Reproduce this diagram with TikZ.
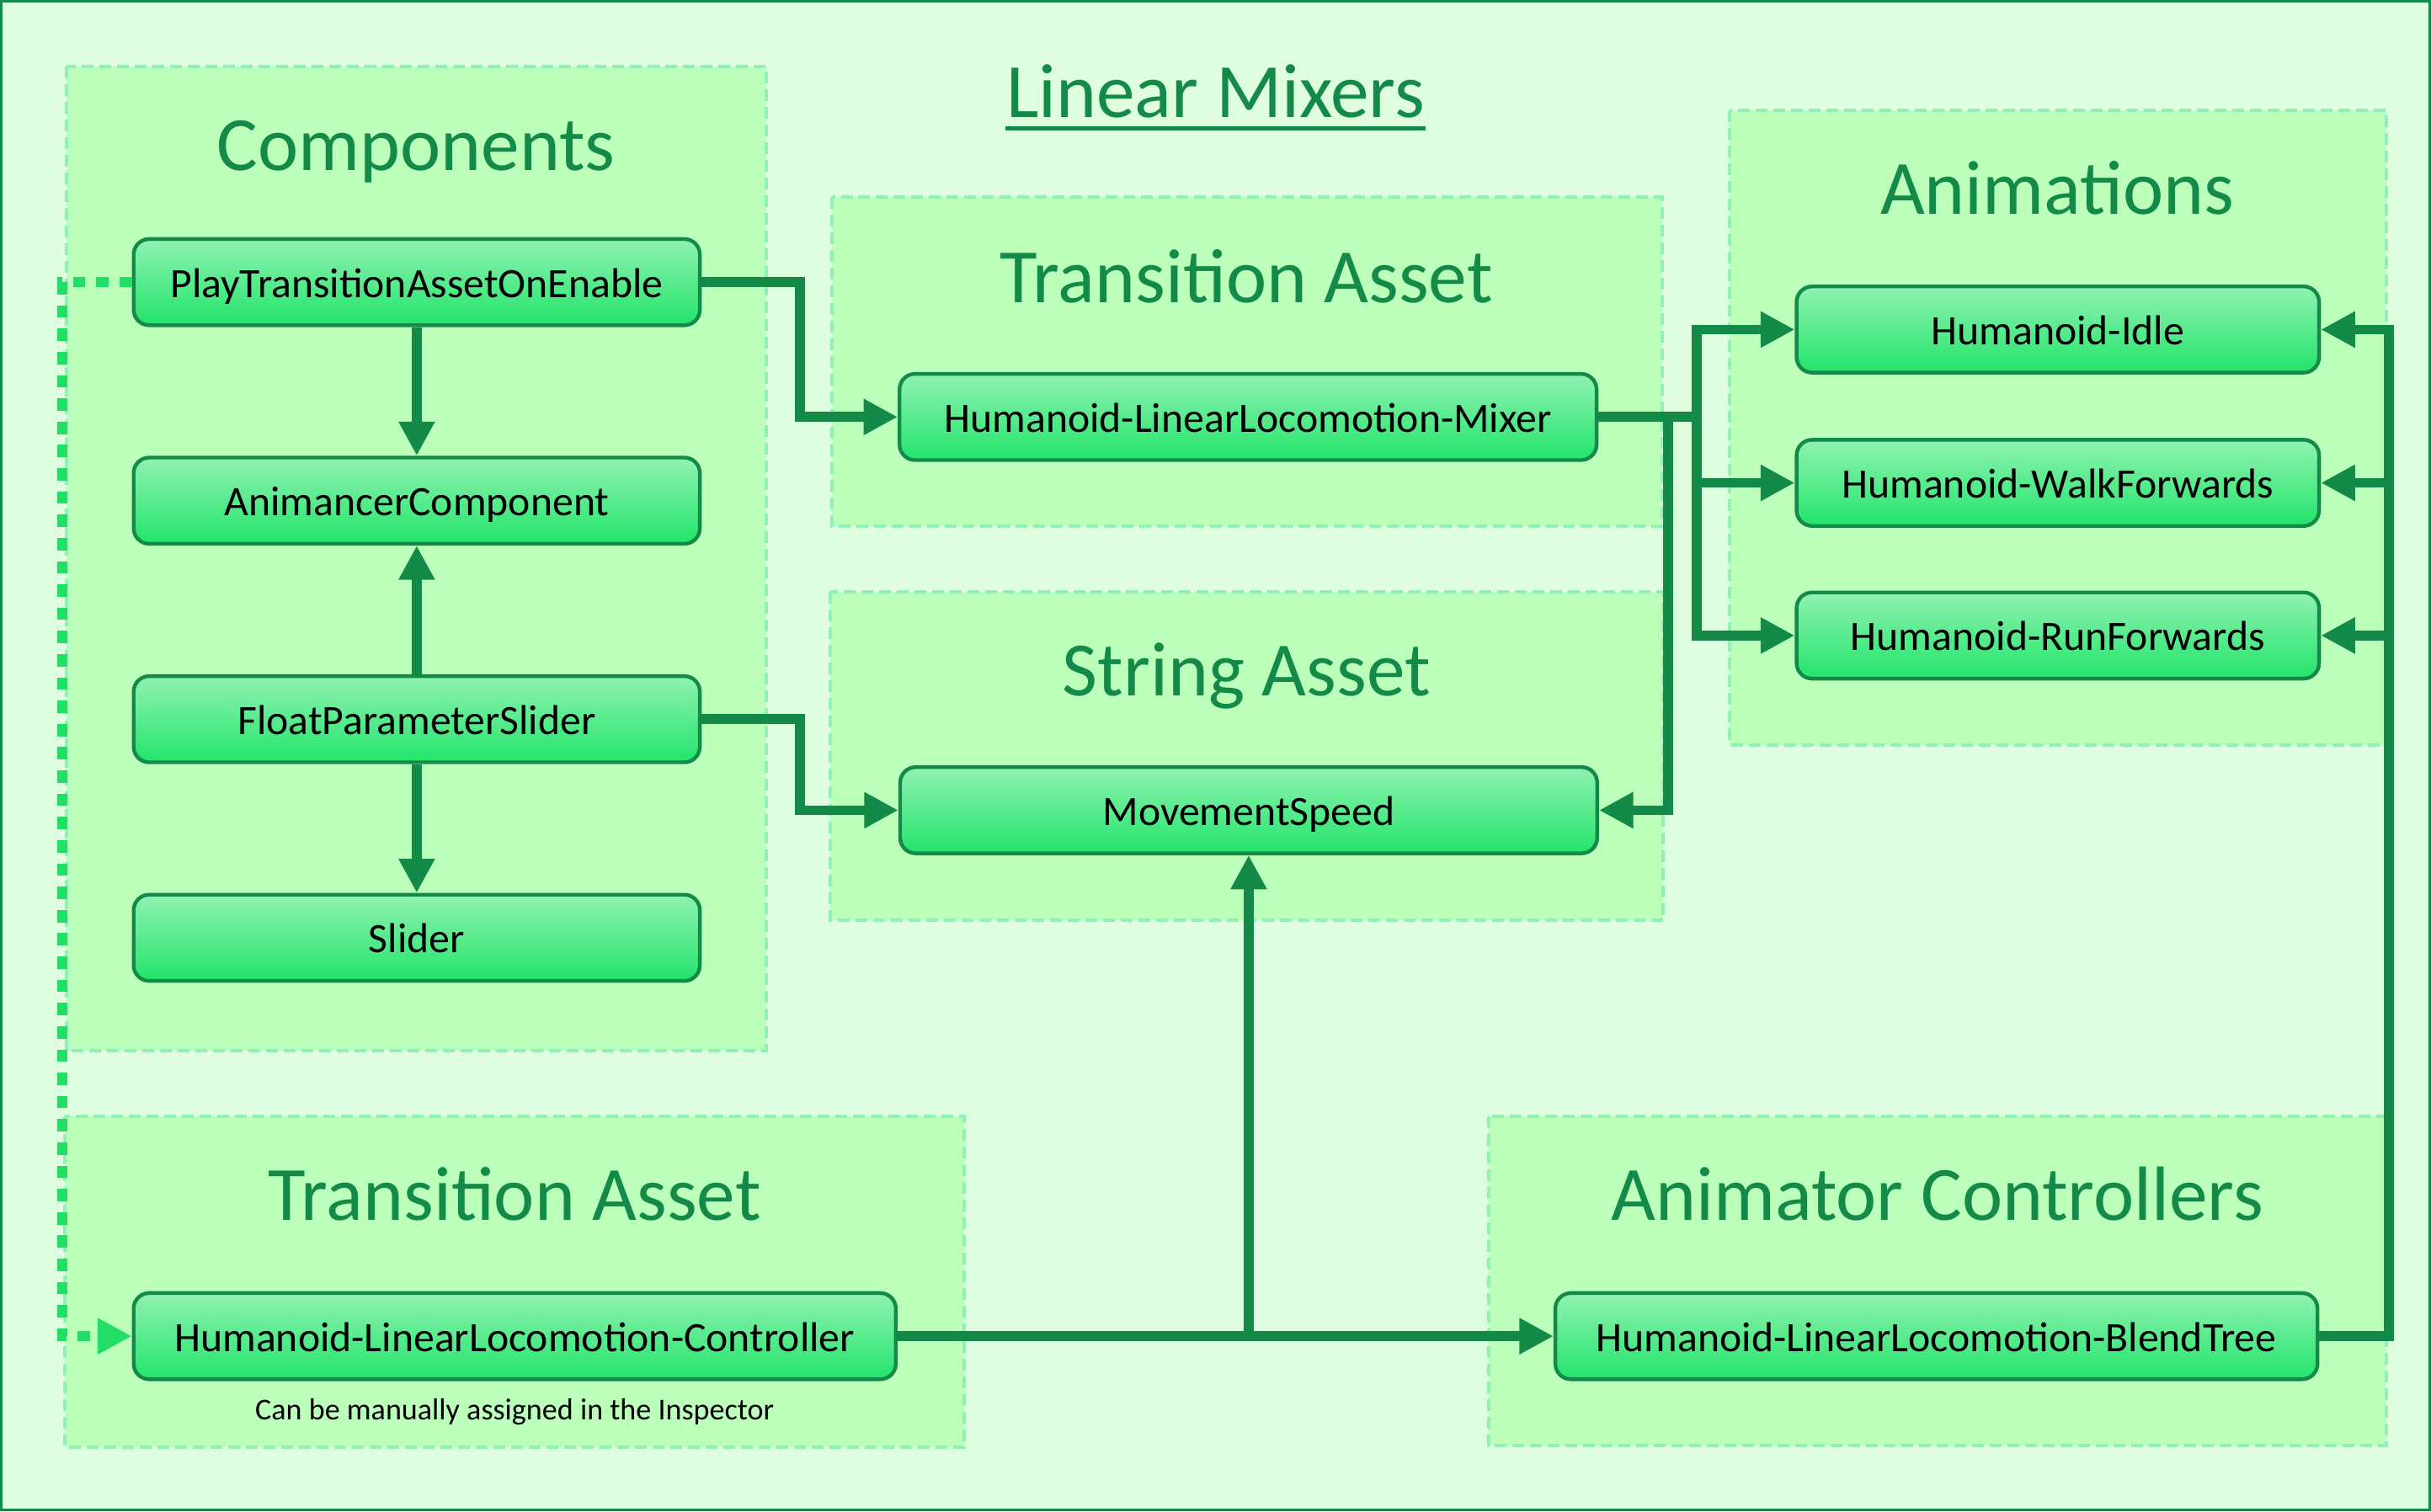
\documentclass[tikz,border=0pt]{standalone}
\usepackage{fontspec}
\setmainfont{Carlito}
\usetikzlibrary{arrows.meta}

\definecolor{dkgreen}{HTML}{148A48}
\definecolor{bgpale}{HTML}{DFFDDF}
\definecolor{grpfill}{HTML}{BBFFBB}
\definecolor{grpline}{HTML}{90F0B8}
\definecolor{boxtop}{HTML}{90F2B2}
\definecolor{boxbot}{HTML}{22E46A}
\definecolor{dotgreen}{HTML}{22DD66}

\tikzset{
    box/.style={draw=dkgreen, line width=1.2pt, rounded corners=5pt,
        top color=boxtop, bottom color=boxbot, minimum height=27.8pt,
        inner sep=0pt, text height=12.2pt, text depth=2.4pt,
        text=black, font=\fontsize{13.5}{16}\selectfont},
    group/.style={fill=grpfill, draw=grpline, line width=1.1pt,
        dash pattern=on 3.8pt off 1.9pt},
    grouptitle/.style={anchor=base, inner sep=0pt, text=dkgreen,
        font=\fontsize{24.8}{30}\selectfont},
    note/.style={anchor=base, inner sep=0pt, text=black,
        font=\fontsize{9.8}{12}\selectfont},
    link/.style={draw=dkgreen, line width=3.2pt,
        -{Triangle[length=11pt,width=11pt]}},
    assign/.style={draw=dotgreen, line width=3.2pt,
        dash pattern=on 4pt off 3.5pt,
        -{Triangle[length=11pt,width=11pt]}},
}

\begin{document}
\begin{tikzpicture}[x=0.5pt, y=-0.5pt]
    \useasboundingbox (0,0) rectangle (1568,975);
    \fill[bgpale] (0,0) rectangle (1568,975);
    \draw[dkgreen, line width=0.8pt] (0.8,0.8) rectangle (1567.2,974.2);

    % title
    \node[grouptitle] (mixtitle) at (784,76) {Linear Mixers};
    \draw[dkgreen, line width=1.25pt] ([yshift=-3.35pt]mixtitle.base west) -- ([yshift=-3.35pt]mixtitle.base east);

    % groups
    \draw[group] (43,43) rectangle (494,678);
    \draw[group] (536.5,127.3) rectangle (1072,339.5);
    \draw[group] (535.6,381.7) rectangle (1072.8,593.5);
    \draw[group] (1115.8,71) rectangle (1539,480.6);
    \draw[group] (41.6,720) rectangle (622,933.6);
    \draw[group] (960,720) rectangle (1539,932.6);

    \node[grouptitle] (comptitle) at (268.5,110) {Components};
    \node[grouptitle] (tatitle) at (804,195) {Transition Asset};
    \node[grouptitle] (strtitle) at (804,449) {String Asset};
    \node[grouptitle] (animtitle) at (1327,138) {Animations};
    \node[grouptitle] (ctrltitle) at (332,787) {Transition Asset};
    \node[grouptitle] (actitle) at (1249.5,787) {Animator Controllers};

    % components
    \node[box, minimum width=182.6pt] (play) at (268.8,182) {PlayTransitionAssetOnEnable};
    \node[box, minimum width=182.6pt] (anim) at (268.8,323) {AnimancerComponent};
    \node[box, minimum width=182.6pt] (float) at (268.8,464) {FloatParameterSlider};
    \node[box, minimum width=182.6pt] (slider) at (268.8,605) {Slider};

    % assets
    \node[box, minimum width=224.8pt] (mixer) at (805,269) {Humanoid-LinearLocomotion-Mixer};
    \node[box, minimum width=224.8pt] (speed) at (805.4,522.7) {MovementSpeed};

    % animations
    \node[box, minimum width=168.5pt] (idle) at (1327.3,212.6) {Humanoid-Idle};
    \node[box, minimum width=168.5pt] (walk) at (1327.3,311.5) {Humanoid-WalkForwards};
    \node[box, minimum width=168.5pt] (run) at (1327.3,410) {Humanoid-RunForwards};

    % controllers
    \node[box, minimum width=245.8pt] (ctrl) at (332,862) {Humanoid-LinearLocomotion-Controller};
    \node[note] (hint) at (332,916) {Can be manually assigned in the Inspector};
    \node[box, minimum width=245.8pt] (blend) at (1249,862) {Humanoid-LinearLocomotion-BlendTree};

    \coordinate (mixfork) at (1094.4,269);
    \coordinate (spine) at (1541,862);

    % connectors
    \draw[link] (play) -- (anim);
    \draw[link] (float) -- (anim);
    \draw[link] (float) -- (slider);
    \draw[link] (play.east) -- ++(63.3,0) |- (mixer.west);
    \draw[link] (float.east) -- ++(63.3,0) |- (speed.west);

    \draw[link] (mixer.east) -| (mixfork |- idle.west) -- (idle.west);
    \draw[link] (mixer.east) -| (mixfork |- run.west) -- (run.west);
    \draw[link] (mixfork) |- (walk.west);
    \draw[link] ([xshift=22.5pt]mixer.east) |- (speed.east);

    \draw[link] (ctrl) -- (blend);
    \draw[link] (ctrl.east -| speed.south) -- (speed.south);

    \draw[link] (blend.east) -| (spine |- idle.east) -- (idle.east);
    \draw[link] (spine |- walk.east) -- (walk.east);
    \draw[link] (spine |- run.east) -- (run.east);

    \draw[assign] (play.west) -- ++(-45,0) |- (ctrl.west);
\end{tikzpicture}
\end{document}
